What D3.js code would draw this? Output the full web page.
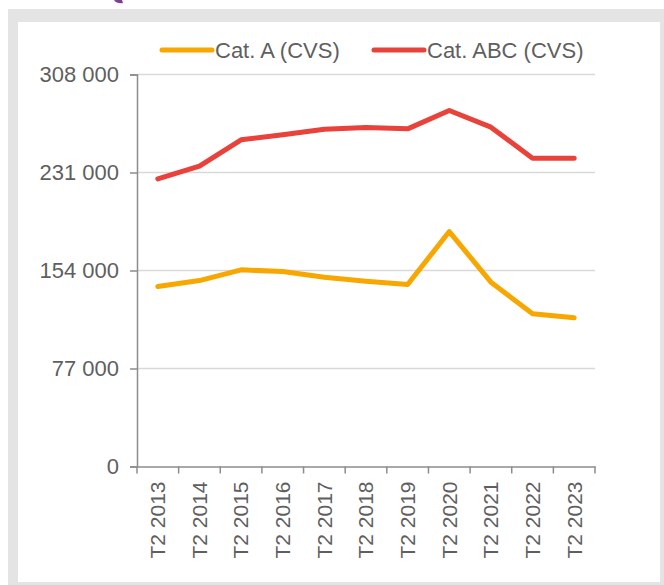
<!DOCTYPE html>
<html>
<head>
<meta charset="utf-8">
<script src="https://cdn.jsdelivr.net/npm/d3@7"></script>
<style>
  body { margin: 0; background: #fff; }
  text { font-family: "Liberation Sans", Arial, sans-serif; fill: #5f5f5f; }
</style>
</head>
<body>
<svg></svg>
<script>
var periods = ['T2 2013', 'T2 2014', 'T2 2015', 'T2 2016', 'T2 2017', 'T2 2018',
  'T2 2019', 'T2 2020', 'T2 2021', 'T2 2022', 'T2 2023'];
var catA = [141400, 146100, 154500, 153200, 148700, 145600, 143000, 184600, 144800, 120000, 116800];
var catABC = [226000, 236000, 256700, 260600, 265000, 266400, 265300, 279700, 266600, 242200, 242200];
var yTicks = [0, 77000, 154000, 231000, 308000];
var seriesNames = ['Cat. A (CVS)', 'Cat. ABC (CVS)'];
var seriesColors = ['#f7a700', '#e8423a'];

var width = 664;
var height = 585;
var svg = d3.select('svg')
  .attr('width', width)
  .attr('height', height);

// grey frame with white panel
svg.append('rect')
  .attr('x', 8).attr('y', 9)
  .attr('width', width - 8).attr('height', height - 9)
  .attr('fill', '#e4e4e4');
svg.append('rect')
  .attr('x', 18).attr('y', 22)
  .attr('width', 642).attr('height', 560)
  .attr('fill', '#fff');

// little bit of logo peeking in at the top
svg.append('path')
  .attr('d', 'M114,0 Q117,4 123,3 L122,0 Z')
  .attr('fill', '#7b3f98');

var scaleX = d3.scaleBand()
  .domain(periods)
  .range([137, 595]);
var scaleY = d3.scaleLinear()
  .domain([0, 308000])
  .range([466.5, 74.5]);

var fmt = function(n) {
  return d3.format(',')(n).replace(/,/g, ' ');
};

// gridlines
svg.append('g')
  .selectAll('line')
  .data(yTicks.filter(function(t) { return t > 0; }))
  .enter().append('line')
  .attr('x1', 137)
  .attr('x2', 595)
  .attr('y1', function(d) { return scaleY(d); })
  .attr('y2', function(d) { return scaleY(d); })
  .attr('stroke', '#d9d9d9')
  .attr('stroke-width', 1.5);

var yAxis = svg.append('g')
  .attr('transform', 'translate(137,0)')
  .call(d3.axisLeft(scaleY).tickValues(yTicks).tickFormat(fmt).tickSizeOuter(0).tickSize(7).tickPadding(11));
yAxis.select('.domain').attr('stroke', '#8c8c8c').attr('stroke-width', 1.5);
yAxis.selectAll('.tick line').attr('stroke', '#8c8c8c').attr('stroke-width', 1.5);
yAxis.selectAll('.tick text')
  .attr('font-size', 22)
  .attr('font-family', '"Liberation Sans", Arial, sans-serif')
  .attr('fill', '#5f5f5f');

var xAxis = svg.append('g')
  .attr('transform', 'translate(0,466.5)')
  .call(d3.axisBottom(scaleX).tickSize(0).tickSizeOuter(0));
xAxis.select('.domain').attr('stroke', '#8c8c8c').attr('stroke-width', 1.5);
xAxis.selectAll('.tick text')
  .attr('font-size', 21)
  .attr('font-family', '"Liberation Sans", Arial, sans-serif')
  .attr('fill', '#5f5f5f')
  .attr('transform', 'rotate(-90)')
  .attr('text-anchor', 'end')
  .attr('x', -15)
  .attr('y', 0)
  .attr('dy', '0.35em');

// band boundary ticks
var bounds = periods.map(function(p) { return scaleX(p); }).concat([scaleX.range()[1]]);
svg.append('g')
  .selectAll('line')
  .data(bounds)
  .enter().append('line')
  .attr('x1', function(d) { return d; })
  .attr('x2', function(d) { return d; })
  .attr('y1', 466.5)
  .attr('y2', 473.5)
  .attr('stroke', '#8c8c8c')
  .attr('stroke-width', 1.5);

var line = d3.line()
  .x(function(d, i) { return scaleX(periods[i]) + scaleX.bandwidth() / 2; })
  .y(function(d) { return scaleY(d); });

[catA, catABC].forEach(function(values, i) {
  svg.append('path')
    .datum(values)
    .attr('fill', 'none')
    .attr('stroke', seriesColors[i])
    .attr('stroke-width', 5)
    .attr('stroke-linejoin', 'round')
    .attr('stroke-linecap', 'round')
    .attr('d', line);
});

// legend
var legendX = [162, 374];
seriesNames.forEach(function(name, i) {
  svg.append('line')
    .attr('x1', legendX[i])
    .attr('x2', legendX[i] + 50)
    .attr('y1', 50)
    .attr('y2', 50)
    .attr('stroke', seriesColors[i])
    .attr('stroke-width', 5)
    .attr('stroke-linecap', 'round');
  svg.append('text')
    .attr('x', legendX[i] + 53)
    .attr('y', 58)
    .attr('font-size', 22)
    .text(name);
});
</script>
</body>
</html>
